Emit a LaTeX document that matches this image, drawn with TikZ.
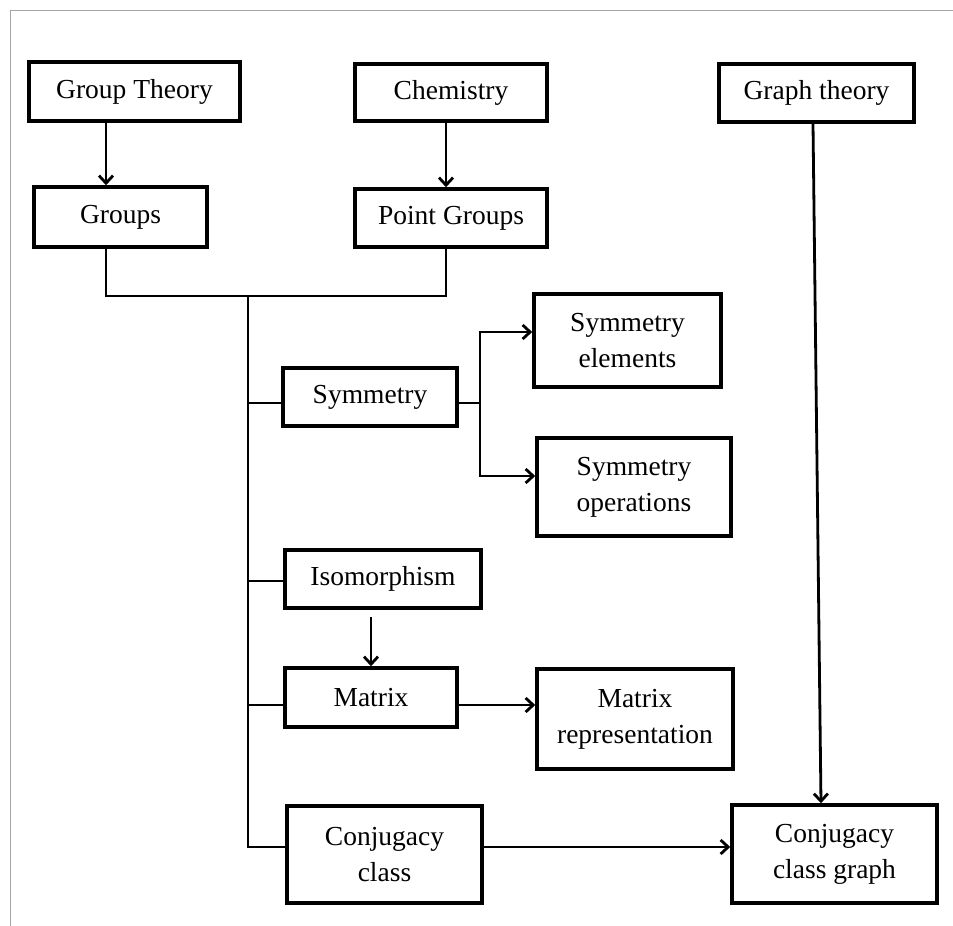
\documentclass[tikz,border=0pt]{standalone}
\usepackage{fontspec}
\setmainfont{Liberation Serif}
\usetikzlibrary{arrows.meta}

\begin{document}
\begin{tikzpicture}[x=1pt, y=-1pt, >={Straight Barb[length=7.5pt,width=14pt]},
   box/.style={draw, line width=3.6pt, align=center, inner sep=0pt,
     font=\fontsize{27.5}{36}\selectfont},
   link/.style={line width=2.8pt}
   ]
   \useasboundingbox (0,0) rectangle (953,926);
   \draw[gray!70, line width=1pt] (10.5,926) -- (10.5,10.5) -- (953,10.5);

   % top row
   \path (134.5,91.5) node[box, minimum width=211pt, minimum height=59pt] (gt) {Group Theory}
   (451,92.5) node[box, minimum width=192pt, minimum height=57pt] (chem) {Chemistry}
   (816.5,93) node[box, minimum width=195pt, minimum height=58pt] (grt) {Graph theory};
   \path (120.5,217) node[box, minimum width=173pt, minimum height=60pt] (grp) {Groups}
   (451,218) node[box, minimum width=192pt, minimum height=58pt] (pg) {Point Groups};

   % middle column
   \path (370,397) node[box, minimum width=174pt, minimum height=58pt] (sym) {Symmetry}
   (383,579) node[box, minimum width=196pt, minimum height=58pt] (iso) {Isomorphism}
   (371,697.5) node[box, minimum width=172pt, minimum height=59pt] (mat) {Matrix}
   (384.5,854.5) node[box, minimum width=195pt, minimum height=97pt] (cc) {Conjugacy\\class};

   % right column
   \path (627.5,340.5) node[box, minimum width=187pt, minimum height=93pt] (syme) {Symmetry\\elements}
   (634,487) node[box, minimum width=194pt, minimum height=98pt] (symo) {Symmetry\\operations}
   (635,719) node[box, minimum width=196pt, minimum height=100pt] (matr) {Matrix\\representation}
   (834.5,854) node[box, minimum width=205pt, minimum height=98pt] (ccg) {Conjugacy\\class graph};

   \coordinate (gtx) at (106,0);
   \coordinate (chx) at (446,0);
   \coordinate (join) at (248,296);
   \coordinate (b1) at (248,403);
   \coordinate (b2) at (248,581);
   \coordinate (b3) at (248,705);
   \coordinate (b4) at (248,847);
   \coordinate (fork) at (480,403);

   \draw[->, link] (gtx |- gt.south) -- (gtx |- grp.north);
   \draw[->, link] (chx |- chem.south) -- (chx |- pg.north);
   \draw[->, link] ([xshift=-3.5pt]grt.south) -- ([xshift=-13.5pt]ccg.north);

   \draw[link] (gtx |- grp.south) -- (gtx |- join) -- (chx |- join) -- (chx |- pg.south);
   \draw[link] (join) -- (b4) -- (b4 -| cc.west);
   \draw[link] (b1) -- (b1 -| sym.west);
   \draw[link] (b2) -- (b2 -| iso.west);
   \draw[link] (b3) -- (b3 -| mat.west);

   \draw[link] (fork -| sym.east) -- (fork);
   \draw[->, link] (fork) |- ([yshift=8.5pt]syme.west);
   \draw[->, link] (fork) |- ([yshift=11pt]symo.west);
   \draw[->, link] ([yshift=-7pt]mat.north |- iso.south) -- (mat.north);
   \draw[->, link] (b3 -| mat.east) -- (b3 -| matr.west);
   \draw[->, link] (b4 -| cc.east) -- (b4 -| ccg.west);
\end{tikzpicture}
\end{document}
